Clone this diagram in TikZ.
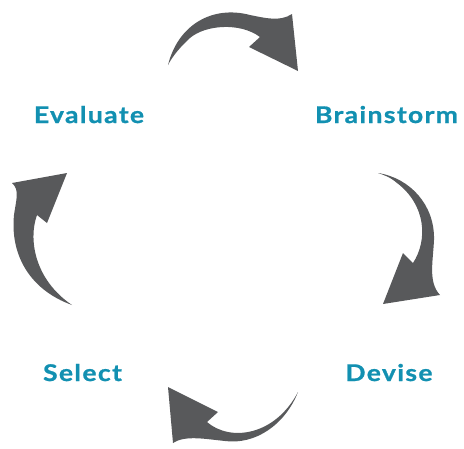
\documentclass[tikz,border=0pt]{standalone}
\usepackage{fontspec}
\newfontfamily\stagefont[FakeStretch=1.15, LetterSpace=6, FakeBold=1]{Lato}
\definecolor{stageblue}{HTML}{1290B1}
\definecolor{arrowgray}{HTML}{58595B}

\begin{document}
\begin{tikzpicture}[x=1pt, y=-1pt,
    stage/.style={anchor=base, inner sep=0pt, text=stageblue,
        font=\stagefont\bfseries\fontsize{23}{27}\selectfont}]
    \useasboundingbox (0,0) rectangle (464,448);

    % the four stages
    \node[stage] (evaluate) at (89,123) {Evaluate};
    \node[stage] (brainstorm) at (386.5,123) {Brainstorm};
    \node[stage] (devise) at (389,381) {Devise};
    \node[stage] (select) at (82.5,381) {Select};

    % curved arrows, clockwise
    \fill[arrowgray] (168,65) .. controls (178,25) and (212,5) .. (250,15)
        .. controls (265,18) and (280,22) .. (292,14) -- (298,71) -- (249,47) -- (260,37)
        .. controls (240,22) and (205,25) .. (190,38) .. controls (180,47) and (172,57) .. (168,65) -- cycle;
    \fill[arrowgray] (378,173) .. controls (410,178) and (435,205) .. (434,240)
        .. controls (433,262) and (428,282) .. (440,295) -- (383,304) -- (403,253) -- (413,263)
        .. controls (428,240) and (426,205) .. (397,183) .. controls (390,177) and (384,175) .. (378,173) -- cycle;
    \fill[arrowgray] (298,392) .. controls (285,425) and (255,445) .. (225,441)
        .. controls (205,439) and (185,435) .. (173,443) -- (168,387) -- (218,412) -- (207,422)
        .. controls (230,442) and (275,436) .. (298,392) -- cycle;
    \fill[arrowgray] (72,305) .. controls (30,290) and (10,255) .. (14,215)
        .. controls (16,200) and (20,190) .. (12,183) -- (67,173) -- (47,223) -- (37,215)
        .. controls (28,240) and (35,280) .. (72,305) -- cycle;
\end{tikzpicture}
\end{document}
